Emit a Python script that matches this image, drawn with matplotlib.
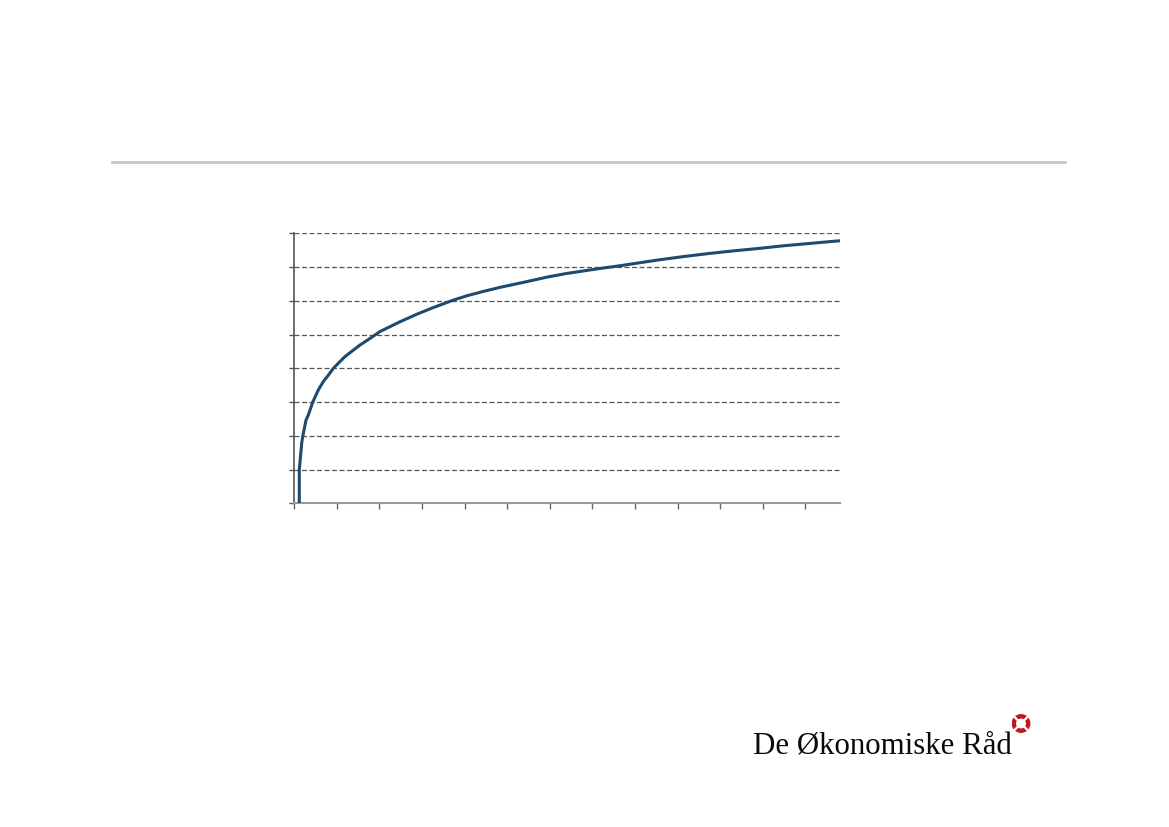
import matplotlib
matplotlib.use("Agg")
import matplotlib.pyplot as plt
from matplotlib.patches import Circle
from matplotlib.lines import Line2D

# Data (axis units: x 0..12.8, y 0..8)
curve_x = [0.117, 0.117, 0.174, 0.197, 0.275, 0.329, 0.432, 0.563, 0.681, 0.80, 0.915,
           1.07, 1.19, 1.385, 1.54, 1.78, 2.01, 2.48, 2.87, 3.26, 3.73, 4.05, 4.44,
           4.83, 5.46, 5.92, 6.39, 7.18, 7.65, 7.96, 8.54, 9.13, 9.72, 10.31,
           10.89, 11.48, 12.1, 12.81]
curve_y = [0.0, 0.99, 1.79, 1.98, 2.47, 2.62, 3.0, 3.36, 3.61, 3.80, 4.0,
           4.20, 4.35, 4.54, 4.69, 4.89, 5.09, 5.38, 5.60, 5.80, 6.02, 6.15, 6.28,
           6.40, 6.57, 6.70, 6.81, 6.96, 7.04, 7.10, 7.21, 7.31, 7.40, 7.48,
           7.55, 7.63, 7.70, 7.78]
x_ticks = list(range(0, 13))
y_ticks = list(range(0, 9))
logo_text = "De Økonomiske Råd"

fig = plt.figure(figsize=(11.69, 8.27), dpi=100)
fig.patch.set_facecolor("white")

# Top separator line
fig.add_artist(Line2D([112 / 1169, 1065 / 1169], [1 - 161.5 / 827, 1 - 161.5 / 827],
                      color="#c8c8c8", linewidth=2.0, transform=fig.transFigure))

ax = fig.add_axes([294.3 / 1169, 1 - 503.5 / 827, (840 - 294.3) / 1169, (503.5 - 233.3) / 827])
ax.plot(curve_x, curve_y, color="#1d4a6e", linewidth=2.2, solid_capstyle="butt",
        solid_joinstyle="round", zorder=3)
ax.set_xlim(0, 12.81)
ax.set_ylim(0, 8)
ax.set_xticks(x_ticks)
ax.set_yticks(y_ticks)
ax.set_xticklabels([])
ax.set_yticklabels([])
ax.yaxis.grid(True, linestyle=(0, (4, 2)), color="#555555", linewidth=0.9)
ax.set_axisbelow(True)
for s in ["top", "right"]:
    ax.spines[s].set_visible(False)
ax.spines["left"].set_color("#555555")
ax.spines["left"].set_linewidth(1.2)
ax.spines["bottom"].set_color("#999999")
ax.spines["bottom"].set_linewidth(1.5)
ax.tick_params(axis="x", direction="out", length=4.5, width=1.0, color="#666666")
ax.tick_params(axis="y", direction="out", length=3.5, width=1.0, color="#555555")

# Logo
fig.text(753 / 1169, 1 - 754 / 827, logo_text, family="Liberation Serif",
         fontsize=22.2, color="#0a0a0a", ha="left", va="baseline")
logo_ax = fig.add_axes([1011.5 / 1169, 1 - 733 / 827, 19 / 1169, 19 / 827])
logo_ax.set_xlim(-1, 1)
logo_ax.set_ylim(-1, 1)
logo_ax.set_aspect("equal")
logo_ax.axis("off")
logo_ax.add_patch(Circle((0, 0), 0.92, color="#c0161e"))
logo_ax.add_patch(Circle((0, 0), 0.45, color="white"))
logo_ax.plot([-0.7, 0.7], [-0.7, 0.7], color="white", linewidth=1.6)
logo_ax.plot([-0.7, 0.7], [0.7, -0.7], color="white", linewidth=1.6)

fig.savefig("out.png", dpi=100, facecolor="white")
